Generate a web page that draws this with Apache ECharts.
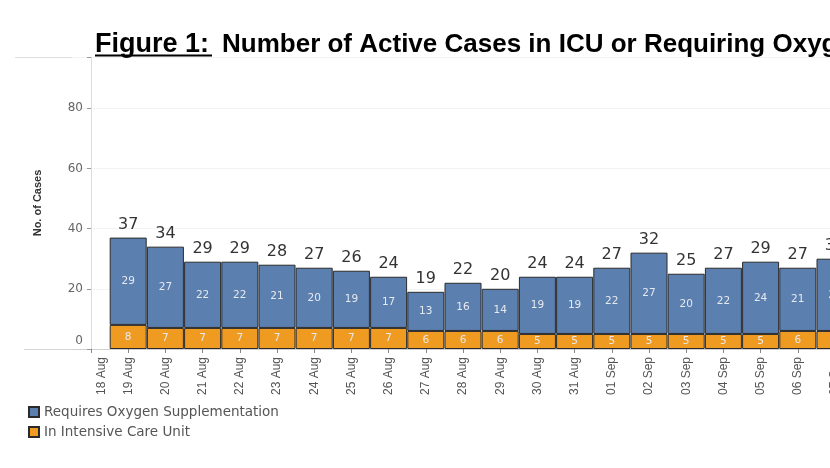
<!DOCTYPE html>
<html><head><meta charset="utf-8">
<script src="https://cdn.jsdelivr.net/npm/echarts@6/dist/echarts.min.js"></script>
<style>html,body{margin:0;padding:0;background:#fff;overflow:hidden}#c{width:900px;height:468px}</style>
</head><body><div id="c"></div>
<script>
const dates = ['18 Aug','19 Aug','20 Aug','21 Aug','22 Aug','23 Aug','24 Aug','25 Aug','26 Aug','27 Aug','28 Aug','29 Aug','30 Aug','31 Aug','01 Sep','02 Sep','03 Sep','04 Sep','05 Sep','06 Sep','07 Sep','08 Sep'];
const barDates = ['19 Aug','20 Aug','21 Aug','22 Aug','23 Aug','24 Aug','25 Aug','26 Aug','27 Aug','28 Aug','29 Aug','30 Aug','31 Aug','01 Sep','02 Sep','03 Sep','04 Sep','05 Sep','06 Sep','07 Sep'];
const oxygen = [29,27,22,22,21,20,19,17,13,16,14,19,19,22,27,20,22,24,21,24];
const icu    = [8,7,7,7,7,7,7,7,6,6,6,5,5,5,5,5,5,5,6,6];
const totals = [37,34,29,29,28,27,26,24,19,22,20,24,24,27,32,25,27,29,27,30];
const yTicks = [0,20,40,60,80];

const pick = (arr) => dates.map(d => { const i = barDates.indexOf(d); return i < 0 ? null : arr[i]; });
const icuData = pick(icu), oxyData = pick(oxygen), totData = pick(totals);

const BAND = 37.2;
const chart = echarts.init(document.getElementById('c'), null, {renderer:'canvas'});
const inner = {show:true, position:'inside', color:'#e6e9ef', fontSize:10.5, fontFamily:'DejaVu Sans'};
chart.setOption({
  animation:false,
  title:{
    left:95, top:31, padding:0,
    text:'{b|Figure 1:}{n|Number of Active Cases in ICU or Requiring Oxygen Supplementation}',
    textStyle:{rich:{
      b:{fontFamily:'Liberation Sans', fontWeight:'bold', fontSize:27, color:'#000'},
      n:{fontFamily:'Liberation Sans', fontSize:26, color:'#000', padding:[0,0,0,13]}
    }}
  },
  legend:{
    orient:'vertical', left:28, top:405, padding:0, itemWidth:10, itemHeight:10, itemGap:6,
    icon:'rect',
    textStyle:{fontFamily:'DejaVu Sans', fontSize:13.5, color:'#555'},
    data:['Requires Oxygen Supplementation','In Intensive Care Unit']
  },
  grid:{left:91 - BAND/2, top:57, height:292, width:BAND*dates.length, containLabel:false},
  xAxis:{
    type:'category', data:dates, boundaryGap:true,
    axisLine:{show:true, lineStyle:{color:'#d0d0d0'}},
    axisTick:{show:true, length:4, alignWithLabel:true, lineStyle:{color:'#888'}},
    splitLine:{show:false},
    axisLabel:{
      rotate:90, margin:8, color:'#555', fontFamily:'Liberation Sans', fontSize:12, interval:0,
      formatter:(v, i)=> i===0 ? '{f|'+v+'}' : v,
      rich:{f:{fontFamily:'Liberation Sans', fontSize:12, color:'#555', padding:[22,0,0,0]}}
    }
  },
  yAxis:{
    type:'value', min:0, max:97, interval:20, offset:-BAND/2,
    name:'No. of Cases', nameLocation:'middle', nameGap:48, nameRotate:90,
    nameTextStyle:{fontFamily:'Liberation Sans', fontWeight:'bold', fontSize:11, color:'#333'},
    axisLine:{show:true, lineStyle:{color:'#dcdcdc'}},
    axisTick:{show:true, length:4, lineStyle:{color:'#999'}},
    splitLine:{show:true, lineStyle:{color:'#f3f3f3'}},
    axisLabel:{
      color:'#666', fontFamily:'DejaVu Sans', fontSize:12, margin:8,
      formatter:(v)=> yTicks.indexOf(v)<0 ? '' : (v===0 ? '{z|0}' : String(v)),
      rich:{z:{color:'#666', fontFamily:'DejaVu Sans', fontSize:12, padding:[0,0,16,0]}}
    }
  },
  series:[
    {name:'In Intensive Care Unit', type:'bar', stack:'a', barWidth:37, data:icuData,
     itemStyle:{color:'#ef9b22', borderColor:'#2a2a2a', borderWidth:1},
     label:inner},
    {name:'Requires Oxygen Supplementation', type:'bar', stack:'a', barWidth:37, data:oxyData,
     itemStyle:{color:'#5b7faf', borderColor:'#2a2a2a', borderWidth:1},
     label:inner},
    {name:'total', type:'bar', stack:'a', barWidth:37, data:totData.map(t => t==null ? null : 0),
     itemStyle:{color:'transparent'},
     label:{show:true, position:'top', distance:5, color:'#333', fontFamily:'DejaVu Sans', fontSize:16,
       formatter:(p)=>String(totData[p.dataIndex])}}
  ],
  graphic:[
    {type:'line', shape:{x1:95, y1:55.5, x2:212, y2:55.5}, style:{stroke:'#000', lineWidth:2}},
    {type:'line', shape:{x1:15, y1:57.5, x2:900, y2:57.5}, style:{stroke:'#dedede', lineWidth:1}},
    {type:'line', shape:{x1:24, y1:349.5, x2:91, y2:349.5}, style:{stroke:'#d8d8d8', lineWidth:1}}
  ]
});
</script></body></html>
